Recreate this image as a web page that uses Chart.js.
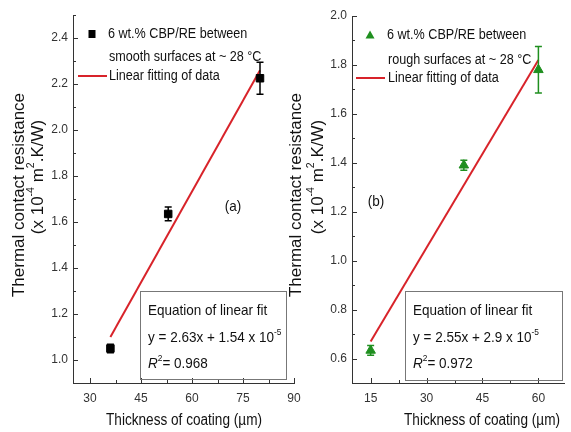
<!DOCTYPE html>
<html>
<head>
<meta charset="utf-8">
<script src="https://cdn.jsdelivr.net/npm/chart.js@4.4.0/dist/chart.umd.min.js"></script>
<style>
    html, body { margin: 0; padding: 0; background: #fff; }
    body { width: 571px; height: 432px; position: relative; overflow: hidden; }
    canvas { position: absolute; top: 0; }
    #chartA { left: 0; }
    #chartB { left: 280px; }
</style>
</head>
<body>
<canvas id="chartA" width="310" height="432"></canvas>
<canvas id="chartB" width="291" height="432"></canvas>
<script>
// ========================================
// Thermal contact resistance vs coating thickness
// ========================================

// Panel (a): smooth surfaces
const thickA = [36, 53, 80];
const resistA = [1.05, 1.635, 2.225];
const errA = [0.018, 0.03, 0.07];
const fitXA = [36, 80];
const fitYA = [1.10, 2.26];
const xTicksA = [30, 45, 60, 75, 90];
const yTicksA = [1.0, 1.2, 1.4, 1.6, 1.8, 2.0, 2.2, 2.4];

// Panel (b): rough surfaces
const thickB = [15, 40, 60];
const resistB = [0.633, 1.39, 1.78];
const errB = [0.02, 0.02, 0.095];
const fitXB = [15, 60];
const fitYB = [0.67, 1.82];
const xTicksB = [15, 30, 45, 60];
const yTicksB = [0.6, 0.8, 1.0, 1.2, 1.4, 1.6, 1.8, 2.0];

const FONT = "'Liberation Sans', Arial, sans-serif";
const RED = '#d8232a';
const GREEN = '#1f8f1f';
const AXIS = '#333';

// draw a run of text pieces: [text, kind] where kind is '', 'sup' or 'it'
function richText(ctx, parts, x, y, size, align, sx) {
    const fontFor = k => (k === 'it' ? 'italic ' : '') + (k === 'sup' ? size * 0.62 : size) + 'px ' + FONT;
    let total = 0;
    parts.forEach(p => { ctx.font = fontFor(p[1]); total += ctx.measureText(p[0]).width; });
    ctx.save();
    ctx.translate(x, y);
    ctx.scale(sx, 1);
    let cx = align === 'center' ? -total / 2 : 0;
    ctx.textBaseline = 'middle';
    ctx.textAlign = 'left';
    parts.forEach(p => {
        ctx.font = fontFor(p[1]);
        ctx.fillText(p[0], cx, p[1] === 'sup' ? -size * 0.38 : 0);
        cx += ctx.measureText(p[0]).width;
    });
    ctx.restore();
}

function minorValues(ticks, min, max) {
    const step = ticks[1] - ticks[0];
    const out = [];
    for (let v = ticks[0] - step / 2; v <= max + 1e-9; v += step) {
        if (v >= min - 1e-9) out.push(v);
    }
    return out;
}

function makeDecor(cfg) {
    return {
        id: 'decor',
        afterDatasetsDraw(chart) {
            const ctx = chart.ctx;
            const xs = chart.scales.x, ys = chart.scales.y;
            ctx.save();
            ctx.strokeStyle = AXIS;
            ctx.lineWidth = 1;
            // inward ticks, major and minor
            ctx.beginPath();
            cfg.yTicks.forEach(v => {
                const py = Math.round(ys.getPixelForValue(v)) + 0.5;
                ctx.moveTo(xs.left, py); ctx.lineTo(xs.left + 5, py);
            });
            minorValues(cfg.yTicks, ys.min, ys.max).forEach(v => {
                const py = Math.round(ys.getPixelForValue(v)) + 0.5;
                ctx.moveTo(xs.left, py); ctx.lineTo(xs.left + 3, py);
            });
            cfg.xTicks.forEach(v => {
                const px = Math.round(xs.getPixelForValue(v)) + 0.5;
                ctx.moveTo(px, ys.bottom); ctx.lineTo(px, ys.bottom - 5);
            });
            minorValues(cfg.xTicks, xs.min, xs.max).forEach(v => {
                const px = Math.round(xs.getPixelForValue(v)) + 0.5;
                ctx.moveTo(px, ys.bottom); ctx.lineTo(px, ys.bottom - 3);
            });
            ctx.stroke();

            // error bars
            ctx.strokeStyle = cfg.color;
            ctx.lineWidth = 1.5;
            ctx.beginPath();
            cfg.xs.forEach((xv, i) => {
                const px = xs.getPixelForValue(xv);
                const top = ys.getPixelForValue(cfg.ys[i] + cfg.err[i]);
                const bot = ys.getPixelForValue(cfg.ys[i] - cfg.err[i]);
                ctx.moveTo(px, top); ctx.lineTo(px, bot);
                ctx.moveTo(px - 3.5, top); ctx.lineTo(px + 3.5, top);
                ctx.moveTo(px - 3.5, bot); ctx.lineTo(px + 3.5, bot);
            });
            ctx.stroke();
            ctx.restore();
        },
        afterDraw(chart) {
            const ctx = chart.ctx;
            const L = cfg.layout;
            ctx.save();
            ctx.fillStyle = '#111';

            // legend
            ctx.fillStyle = cfg.color;
            ctx.beginPath();
            if (cfg.marker === 'rect') {
                ctx.rect(L.mark[0] - 3.5, L.mark[1] - 4, 7, 8);
            } else {
                ctx.moveTo(L.mark[0], L.mark[1] - 4.5);
                ctx.lineTo(L.mark[0] + 4.5, L.mark[1] + 3.5);
                ctx.lineTo(L.mark[0] - 4.5, L.mark[1] + 3.5);
                ctx.closePath();
            }
            ctx.fill();
            ctx.strokeStyle = RED;
            ctx.lineWidth = 2;
            ctx.beginPath();
            ctx.moveTo(L.line[0], L.line[2]);
            ctx.lineTo(L.line[1], L.line[2]);
            ctx.stroke();
            ctx.fillStyle = '#111';
            richText(ctx, [['6 wt.% CBP/RE between', '']], L.textX, L.rows[0], 14, 'left', 0.9);
            richText(ctx, [[cfg.surface + ' surfaces at ~ 28 °C', '']], L.textX + 1, L.rows[1], 14, 'left', 0.9);
            richText(ctx, [['Linear fitting of data', '']], L.textX + 1, L.rows[2], 14, 'left', 0.9);

            // panel letter
            richText(ctx, [[cfg.letter, '']], L.letter[0], L.letter[1], 15, 'center', 0.9);

            // fit box
            const b = L.box;
            ctx.strokeStyle = '#777';
            ctx.lineWidth = 1;
            ctx.strokeRect(b[0] + 0.5, b[1] + 0.5, b[2] - b[0], b[3] - b[1]);
            richText(ctx, [['Equation of linear fit', '']], b[0] + 8, b[1] + 20, 15, 'left', 0.9);
            richText(ctx, [[cfg.equation, ''], ['-5', 'sup']], b[0] + 8, b[1] + 47, 15, 'left', 0.9);
            richText(ctx, [['R', 'it'], ['2', 'sup'], ['= ' + cfg.r2, '']], b[0] + 8, b[1] + 73, 15, 'left', 0.9);

            // axis titles
            richText(ctx, [['Thickness of coating (µm)', '']], L.xTitle[0], L.xTitle[1], 16, 'center', 0.85);
            ctx.save();
            ctx.translate(L.yTitle[0], L.yTitle[1]);
            ctx.rotate(-Math.PI / 2);
            richText(ctx, [['Thermal contact resistance', '']], 0, 0, 17, 'center', 1);
            ctx.restore();
            ctx.save();
            ctx.translate(L.yTitle2[0], L.yTitle2[1]);
            ctx.rotate(-Math.PI / 2);
            richText(ctx, [['(x 10', ''], ['-4', 'sup'], [' m', ''], ['2', 'sup'], ['.K/W)', '']], 0, 0, 17, 'center', 1);
            ctx.restore();
            ctx.restore();
        }
    };
}

function axes(xMin, xMax, yMin, yMax, xTicks, yTicks, yWidth) {
    return {
        x: {
            type: 'linear', min: xMin, max: xMax,
            afterBuildTicks: s => { s.ticks = xTicks.map(v => ({ value: v })); },
            afterFit: s => { s.height = 49; },
            grid: { drawOnChartArea: false, drawTicks: false },
            border: { color: AXIS, width: 1 },
            ticks: { color: '#333', padding: 8, maxRotation: 0, font: { family: FONT, size: 12 } }
        },
        y: {
            type: 'linear', min: yMin, max: yMax,
            afterBuildTicks: s => { s.ticks = yTicks.map(v => ({ value: v })); },
            afterFit: s => { s.width = yWidth; },
            grid: { drawOnChartArea: false, drawTicks: false },
            border: { color: AXIS, width: 1 },
            ticks: {
                color: '#333', padding: 5, font: { family: FONT, size: 12 },
                callback: v => v.toFixed(1)
            }
        }
    };
}

function makeChart(id, d) {
    const points = d.xs.map((x, i) => ({ x: x, y: d.ys[i] }));
    const fit = d.fitX.map((x, i) => ({ x: x, y: d.fitY[i] }));
    return new Chart(document.getElementById(id), {
        type: 'scatter',
        data: {
            datasets: [
                {
                    data: points,
                    pointStyle: d.marker === 'rect' ? 'rect' : 'triangle',
                    pointRadius: d.marker === 'rect' ? 5.3 : 5.5,
                    backgroundColor: d.color,
                    borderColor: d.color,
                    borderWidth: 1,
                    order: 1
                },
                {
                    type: 'line',
                    data: fit,
                    borderColor: RED,
                    borderWidth: 2,
                    pointRadius: 0,
                    fill: false,
                    order: 2
                }
            ]
        },
        options: {
            responsive: false,
            animation: false,
            devicePixelRatio: 1,
            layout: { padding: d.padding },
            plugins: { legend: { display: false }, tooltip: { enabled: false } },
            scales: axes(d.xMin, d.xMax, d.yMin, d.yMax, d.xTicks, d.yTicks, d.yWidth)
        },
        plugins: [makeDecor(d)]
    });
}

makeChart('chartA', {
    xs: thickA, ys: resistA, err: errA, fitX: fitXA, fitY: fitYA,
    xTicks: xTicksA, yTicks: yTicksA,
    xMin: 25, xMax: 90, yMin: 0.9, yMax: 2.5, yWidth: 73,
    padding: { left: 0, top: 15, right: 16, bottom: 0 },
    color: '#000', marker: 'rect', surface: 'smooth', letter: '(a)',
    equation: 'y = 2.63x + 1.54 x 10', r2: '0.968',
    layout: {
        mark: [92, 34], textX: 108, rows: [34, 57, 76], line: [78, 107, 76],
        letter: [233, 207], box: [140, 291, 286, 379],
        xTitle: [184, 421], yTitle: [19, 195], yTitle2: [38, 177]
    }
});

makeChart('chartB', {
    xs: thickB, ys: resistB, err: errB, fitX: fitXB, fitY: fitYB,
    xTicks: xTicksB, yTicks: yTicksB,
    xMin: 10, xMax: 67, yMin: 0.5, yMax: 2.0, yWidth: 72,
    padding: { left: 0, top: 16, right: 0, bottom: 0 },
    color: GREEN, marker: 'tri', surface: 'rough', letter: '(b)',
    equation: 'y = 2.55x + 2.9 x 10', r2: '0.972',
    layout: {
        mark: [90, 35], textX: 107, rows: [35, 60, 78], line: [76, 105, 78],
        letter: [96, 202], box: [125, 291, 282, 380],
        xTitle: [202, 421], yTitle: [16, 195], yTitle2: [38, 177]
    }
});
</script>
</body>
</html>
